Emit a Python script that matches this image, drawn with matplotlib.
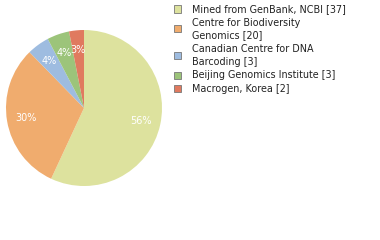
import numpy as np
import matplotlib
matplotlib.use("Agg")
import matplotlib.pyplot as plt
from matplotlib.patches import Rectangle

labels = ["Mined from GenBank, NCBI [37]",
          "Centre for Biodiversity\nGenomics [20]",
          "Canadian Centre for DNA\nBarcoding [3]",
          "Beijing Genomics Institute [3]",
          "Macrogen, Korea [2]"]
counts = [37, 20, 3, 3, 2]
colors = ["#dde29e", "#f0ac6e", "#9ebce0", "#9cc47a", "#e07a5f"]

fig = plt.figure(figsize=(3.8, 2.4), dpi=100)
W, H = 380, 240

# pie: centre (84,108), radius 78 px
cx, cy, r = 84, 108, 78
ax = fig.add_axes([(cx - r) / W, 1 - (cy + r) / H, 2 * r / W, 2 * r / H])
wedges, texts, autotexts = ax.pie(counts, colors=colors, startangle=90, counterclock=False,
                                  autopct=lambda p: "%d%%" % int(p), pctdistance=0.75,
                                  wedgeprops=dict(linewidth=0))
for t in autotexts:
    t.set_color("white")
    t.set_fontsize(7)
ax.set_aspect("equal")
ax.set_xlim(-1, 1)
ax.set_ylim(-1, 1)

# legend drawn by hand
y = 9
line_h = 13.3
for lab, col in zip(labels, colors):
    n = lab.count("\n") + 1
    yc = y + (n - 1) * line_h / 2
    fig.patches.append(Rectangle((174 / W, 1 - (yc + 3.5) / H), 7 / W, 7 / H,
                                 transform=fig.transFigure, facecolor=col,
                                 edgecolor="#777777", linewidth=0.6))
    fig.text(192 / W, 1 - yc / H, lab, fontsize=6.9, va="center", ha="left",
             color="#222222", linespacing=1.3)
    y += n * line_h

fig.savefig("out.png", dpi=100)
